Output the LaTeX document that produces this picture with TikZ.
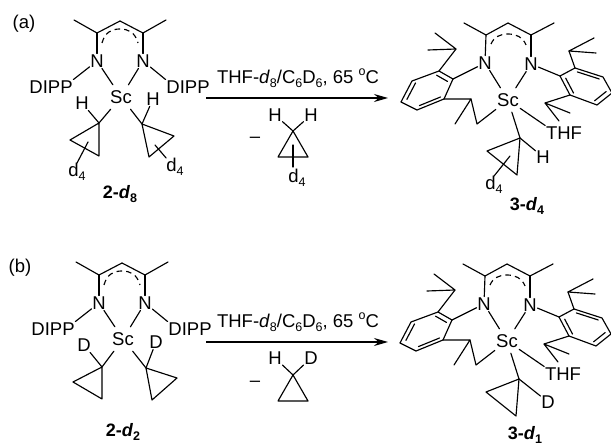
\documentclass[tikz,border=0pt]{standalone}
\usepackage{fontspec}
\setmainfont{Liberation Sans}
\usetikzlibrary{calc,arrows.meta}
\newcommand{\sbs}[1]{\raisebox{-0.22em}{\fontsize{12.5}{13}\selectfont #1}}
\newcommand{\sps}[1]{\raisebox{0.42em}{\fontsize{12.5}{13}\selectfont #1}}
\newcommand{\cond}{THF-\textit{d}\sbs{8}/C\sbs{6}D\sbs{6}, 65 \sps{o}C}
\tikzset{
  bond/.style={line width=1.15pt,line cap=round,line join=round},
  delo/.style={line width=1.15pt,dash pattern=on 5.5pt off 4.2pt},
  atom/.style={inner sep=0.6pt,font=\fontsize{18.5}{20}\selectfont,text height=13.3pt,text depth=0pt},
  sc/.style={inner sep=0pt,minimum width=24pt,minimum height=24pt,font=\fontsize{18.5}{20}\selectfont},
  tag/.style={inner sep=0pt,font=\fontsize{18.5}{20}\selectfont},
  cpd/.style={inner sep=0pt,font=\fontsize{18}{20}\selectfont\bfseries},
  rxn/.style={line width=1.25pt,-{Stealth[length=14pt,width=8pt]}},
}
\newcommand{\backbone}{
  \coordinate (mel) at (74,20); \coordinate (cl) at (97,33); \coordinate (ch) at (120,21);
  \coordinate (cr) at (143,33); \coordinate (mer) at (166,20);
  \node[atom] (nl) at (97,61) {N};
  \node[atom] (nr) at (143,61) {N};
  \draw[bond] (mel)--(cl)--(ch)--(cr)--(mer);
  \draw[bond] (cl)--(nl); \draw[bond] (cr)--(nr);
  \coordinate (al) at (102,43); \coordinate (ar) at (138,43);
  \draw[delo] (al) .. controls (105,32) and (112,29) .. (120,29) .. controls (128,29) and (135,32) .. (ar);
  \node[sc] (sc) at (121,97) {Sc};
  \draw[bond] (nl)--(sc); \draw[bond] (nr)--(sc);
  \node[atom] (dl) at (51,87) {DIPP};
  \node[atom] (dr) at (188,87) {DIPP};
  \draw[bond] (nl)--(dl.north east); \draw[bond] (nr)--(dr.north west);
}
\newcommand{\product}{
  \coordinate (mel) at (464,23); \coordinate (cl) at (486,35); \coordinate (ch) at (508,23);
  \coordinate (cr) at (531,35); \coordinate (mer) at (554,23);
  \node[atom] (nl) at (485,63) {N};
  \node[atom] (nr) at (531,64) {N};
  \draw[bond] (mel)--(cl)--(ch)--(cr)--(mer);
  \draw[bond] (cl)--(nl); \draw[bond] (cr)--(nr);
  \coordinate (al) at (491,44); \coordinate (ar) at (526,45);
  \draw[delo] (al) .. controls (494,37) and (500,34) .. (508,34) .. controls (516,34) and (523,37) .. (ar);
  \node[sc] (sc) at (508,100) {Sc};
  \draw[bond] (nl)--(sc); \draw[bond] (nr)--(sc);
  \coordinate (l1) at (453,79); \coordinate (l2) at (439,71); \coordinate (l3) at (412,81);
  \coordinate (l4) at (401,102); \coordinate (l5) at (417,110); \coordinate (l6) at (444,99);
  \coordinate (lc) at (428,90);
  \draw[bond] (l1)--(l2)--(l3)--(l4)--(l5)--(l6)--cycle;
  \draw[bond] ($(l1)!.22!(lc)$)--($(l2)!.22!(lc)$);
  \draw[bond] ($(l3)!.22!(lc)$)--($(l4)!.22!(lc)$);
  \draw[bond] ($(l5)!.22!(lc)$)--($(l6)!.22!(lc)$);
  \draw[bond] (nl)--(l1);
  \coordinate (li) at (456,49); \coordinate (lm1) at (435,33); \coordinate (lm2) at (428,50);
  \draw[bond] (l2)--(li); \draw[bond] (lm1)--(li)--(lm2);
  \coordinate (lq) at (471,99); \coordinate (lqm) at (455,124); \coordinate (lch) at (477,124);
  \draw[bond] (l6)--(lq)--(lqm); \draw[bond] (lq)--(lch)--(sc);
  \coordinate (r1) at (560,76); \coordinate (r2) at (575,68); \coordinate (r3) at (603,77);
  \coordinate (r4) at (612,93); \coordinate (r5) at (597,105); \coordinate (r6) at (570,95);
  \coordinate (rc) at (586,86);
  \draw[bond] (r1)--(r2)--(r3)--(r4)--(r5)--(r6)--cycle;
  \draw[bond] ($(r2)!.22!(rc)$)--($(r3)!.22!(rc)$);
  \draw[bond] ($(r4)!.22!(rc)$)--($(r5)!.22!(rc)$);
  \draw[bond] ($(r6)!.22!(rc)$)--($(r1)!.22!(rc)$);
  \draw[bond] (nr)--(r1);
  \coordinate (ri) at (569,51); \coordinate (rm1) at (594,38); \coordinate (rm2) at (596,53);
  \draw[bond] (r2)--(ri); \draw[bond] (rm1)--(ri)--(rm2);
  \coordinate (rj) at (545,103); \coordinate (rj1) at (570,113); \coordinate (rj2) at (559,121);
  \draw[bond] (r6)--(rj); \draw[bond] (rj1)--(rj)--(rj2);
  \node[atom] (thf) at (564,133) {THF};
  \draw[bond] (sc)--(thf.north west);
  \coordinate (p1) at (520,138); \coordinate (p2) at (487,151); \coordinate (p3) at (517,175);
  \draw[bond] (sc)--(p1);
  \draw[bond] (p1)--(p2)--(p3)--cycle;
}
\begin{document}
\begin{tikzpicture}[x=1pt,y=-1pt]
\useasboundingbox (0,0) rectangle (611,446);
\node[tag] (la) at (24,24) {(a)};
\node[tag] (lb) at (20,268) {(b)};

\begin{scope}[name prefix=a-]
  \backbone
  \coordinate (c1) at (99,123); \coordinate (c2) at (70,140); \coordinate (c3) at (99,156);
  \coordinate (e1) at (142,124); \coordinate (e2) at (174,136); \coordinate (e3) at (149,157);
  \draw[bond] (sc)--(c1); \draw[bond] (sc)--(e1);
  \draw[bond] (c1)--(c2)--(c3)--cycle;
  \draw[bond] (e1)--(e2)--(e3)--cycle;
  \node[atom] (hl) at (82,103) {H};
  \node[atom] (hr) at (153,99) {H};
  \draw[bond] (hl)--(c1); \draw[bond] (hr)--(e1);
  \node[tag] (dl4) at (77,172) {d\sbs{4}};
  \node[tag] (dr4) at (175,167) {d\sbs{4}};
  \coordinate (x1) at (88,142); \coordinate (x2) at (155,145);
  \draw[bond] (x1)--(dl4.north); \draw[bond] (x2)--(dr4.north west);
  \node[cpd] (name) at (120,194) {2-\textit{d}\sbs{8}};
\end{scope}

\coordinate (as) at (206,98); \coordinate (ae) at (388,98);
\draw[rxn] (as)--(ae);
\node[tag] (ta) at (298,78) {\cond};
\node[tag] (ma) at (255,140) {--};
\coordinate (ac1) at (293,131); \coordinate (ac2) at (278,157); \coordinate (ac3) at (308,157);
\draw[bond] (ac1)--(ac2)--(ac3)--cycle;
\node[atom] (ah1) at (275,115) {H};
\node[atom] (ah2) at (311,115) {H};
\draw[bond] (ah1)--(ac1)--(ah2);
\node[tag] (ad) at (297,178) {d\sbs{4}};
\coordinate (ax) at (293,145); \coordinate (ay) at (293,167);
\draw[bond] (ax)--(ay);

\begin{scope}[name prefix=p-]
  \product
  \node[atom] (h) at (543,157) {H};
  \draw[bond] (p1)--(h);
  \node[tag] (d4) at (494,185) {d\sbs{4}};
  \coordinate (x) at (510,156);
  \draw[bond] (x)--(d4.north);
  \node[cpd] (name) at (527,206) {3-\textit{d}\sbs{4}};
\end{scope}

\begin{scope}[name prefix=b-,shift={(2,242)}]
  \backbone
  \coordinate (c1) at (100,125); \coordinate (c2) at (71,140); \coordinate (c3) at (100,157);
  \coordinate (e1) at (144,126); \coordinate (e2) at (175,136); \coordinate (e3) at (150,158);
  \draw[bond] (sc)--(c1); \draw[bond] (sc)--(e1);
  \draw[bond] (c1)--(c2)--(c3)--cycle;
  \draw[bond] (e1)--(e2)--(e3)--cycle;
  \node[atom] (hl) at (82,103) {D};
  \node[atom] (hr) at (154,100) {D};
  \draw[bond] (hl)--(c1); \draw[bond] (hr)--(e1);
  \node[cpd] (name) at (121,190) {2-\textit{d}\sbs{2}};
\end{scope}

\coordinate (bs) at (206,342); \coordinate (be) at (388,342);
\draw[rxn] (bs)--(be);
\node[tag] (tb) at (298,322) {\cond};
\node[tag] (mb) at (255,384) {--};
\coordinate (bc1) at (293,375); \coordinate (bc2) at (278,401); \coordinate (bc3) at (308,401);
\draw[bond] (bc1)--(bc2)--(bc3)--cycle;
\node[atom] (bh1) at (275,358) {H};
\node[atom] (bh2) at (311,358) {D};
\draw[bond] (bh1)--(bc1)--(bh2);

\begin{scope}[name prefix=q-,shift={(-1,241)}]
  \product
  \node[atom] (h) at (549,161) {D};
  \draw[bond] (p1)--(h);
  \node[cpd] (name) at (526,194) {3-\textit{d}\sbs{1}};
\end{scope}
\end{tikzpicture}
\end{document}
